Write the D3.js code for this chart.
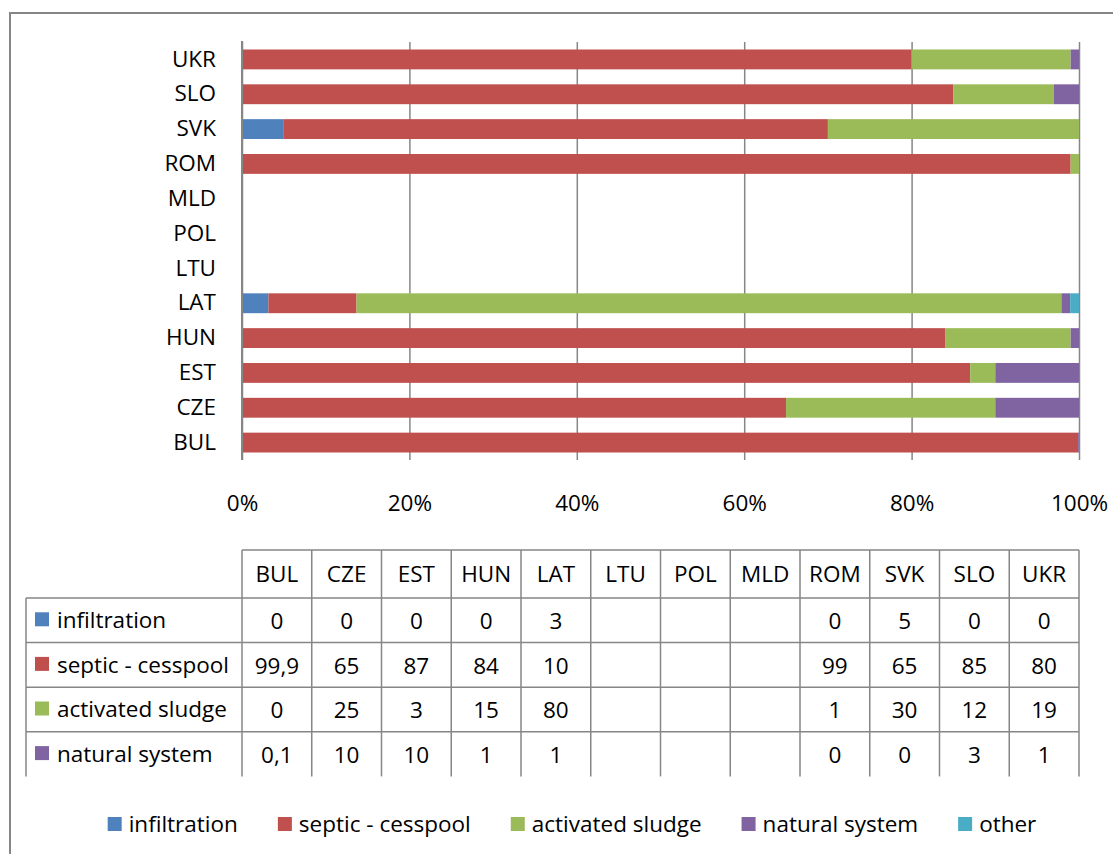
<!DOCTYPE html>
<html>
<head>
<meta charset="utf-8">
<script src="https://cdn.jsdelivr.net/npm/d3@7"></script>
<style>
  body { margin: 0; background: #fff; }
  svg text { font-family: "Open Sans", "Noto Sans", sans-serif; fill: #000; }
</style>
</head>
<body>
<svg id="chart" width="1113" height="854"></svg>
<script>
"use strict";

// categories, bottom to top in the chart, left to right in the table
const countries = ['BUL', 'CZE', 'EST', 'HUN', 'LAT', 'LTU', 'POL', 'MLD', 'ROM', 'SVK', 'SLO', 'UKR'];

// shares per country (null = no data)
const infiltration = [0, 0, 0, 0, 3, null, null, null, 0, 5, 0, 0];
const septic = [99.9, 65, 87, 84, 10, null, null, null, 99, 65, 85, 80];
const activated = [0, 25, 3, 15, 80, null, null, null, 1, 30, 12, 19];
const natural = [0.1, 10, 10, 1, 1, null, null, null, 0, 0, 3, 1];
const other = [0, 0, 0, 0, 1, null, null, null, 0, 0, 0, 0];

const series_names = ['infiltration', 'septic - cesspool', 'activated sludge', 'natural system', 'other'];
const table_series = 4; // "other" is not listed in the table
const x_ticks = [0, 0.2, 0.4, 0.6, 0.8, 1];

const colors = ['#4f81bd', '#c0504d', '#9bbb59', '#8064a2', '#4bacc6'];
const grid_color = '#868686';
const font_size = 22.5;

const rows = countries.map((c, i) => ({
    country: c,
    s0: infiltration[i], s1: septic[i], s2: activated[i], s3: natural[i], s4: other[i]
}));
const keys = ['s0', 's1', 's2', 's3', 's4'];
const values = [infiltration, septic, activated, natural, other];

const margin = {top: 42, left: 242, right: 1079, bottom: 460};

const svg = d3.select('#chart');

// outer chart frame (only top and left edges are visible)
svg.append('path')
    .attr('d', 'M10,854V13H1113')
    .attr('fill', 'none')
    .attr('stroke', grid_color)
    .attr('stroke-width', 2);

const x = d3.scaleLinear().domain([0, 1]).range([margin.left, margin.right]);
const y = d3.scaleBand().domain(countries)
    .range([margin.bottom, margin.top])
    .paddingInner(0.43).paddingOuter(0.215);

// gridlines and percent labels
const xAxis = d3.axisBottom(x)
    .tickValues(x_ticks)
    .tickFormat(d3.format('.0%'))
    .tickSizeInner(-(margin.bottom - margin.top))
    .tickSizeOuter(0);

const gx = svg.append('g')
    .attr('transform', `translate(0,${margin.bottom})`)
    .call(xAxis);
gx.select('.domain').remove();
gx.selectAll('line').attr('stroke', grid_color).attr('stroke-width', 1.5);
gx.selectAll('text')
    .attr('y', 43).attr('dy', '0.35em')
    .style('font-size', font_size + 'px')
    .style('font-family', null);

// stacked, normalised to 100%
const stack = d3.stack().keys(keys).offset(d3.stackOffsetExpand);
const stacked = stack(rows);

svg.append('g').selectAll('g')
    .data(stacked)
    .join('g')
    .attr('fill', (d, i) => colors[i])
    .selectAll('rect')
    .data(d => d.filter(p => p[1] - p[0] > 0))
    .join('rect')
    .attr('x', d => x(d[0]))
    .attr('width', d => x(d[1]) - x(d[0]))
    .attr('y', d => y(d.data.country))
    .attr('height', y.bandwidth());

// category axis
const yAxis = d3.axisLeft(y).tickSize(0).tickPadding(26);
const gy = svg.append('g')
    .attr('transform', `translate(${margin.left},0)`)
    .call(yAxis);
gy.select('.domain')
    .attr('d', `M0,${margin.top - 1}V${margin.bottom}`)
    .attr('stroke', grid_color).attr('stroke-width', 2);
gy.selectAll('text')
    .style('font-size', font_size + 'px')
    .style('font-family', null);

// data table
const col = d3.scaleBand().domain(countries).range([margin.left, margin.right]);
const table_top = 550, header_bottom = 598, row_h = 44.6, table_left = 26;
const table_bottom = header_bottom + row_h * table_series;
const table = svg.append('g');
const line_style = sel => sel.attr('stroke', grid_color).attr('stroke-width', 1.5);

// horizontal rules
table.append('line').call(line_style)
    .attr('x1', margin.left).attr('x2', margin.right)
    .attr('y1', table_top).attr('y2', table_top);
d3.range(table_series).forEach(i => {
    const yy = header_bottom + i * row_h;
    table.append('line').call(line_style)
        .attr('x1', table_left).attr('x2', margin.right)
        .attr('y1', yy).attr('y2', yy);
});
// vertical rules
table.append('line').call(line_style)
    .attr('x1', table_left).attr('x2', table_left)
    .attr('y1', header_bottom).attr('y2', table_bottom);
countries.concat([null]).forEach((c, i) => {
    const xx = c ? col(c) : margin.right;
    table.append('line').call(line_style)
        .attr('x1', xx).attr('x2', xx)
        .attr('y1', table_top).attr('y2', table_bottom);
});

// header
table.selectAll('.head')
    .data(countries)
    .join('text')
    .attr('class', 'head')
    .attr('x', d => col(d) + col.bandwidth() / 2)
    .attr('y', (table_top + header_bottom) / 2)
    .attr('dy', '0.35em')
    .attr('text-anchor', 'middle')
    .style('font-size', font_size + 'px')
    .text(d => d);

const fmt = v => String(v).replace('.', ',');

d3.range(table_series).forEach(s => {
    const cy = header_bottom + (s + 0.5) * row_h;
    table.append('rect')
        .attr('x', 35).attr('y', cy - 8)
        .attr('width', 14).attr('height', 14)
        .attr('fill', colors[s]);
    table.append('text')
        .attr('x', 57).attr('y', cy).attr('dy', '0.35em')
        .style('font-size', font_size + 'px')
        .text(series_names[s]);
    table.append('g').selectAll('text')
        .data(values[s].map((v, i) => ({v, c: countries[i]})).filter(d => d.v !== null))
        .join('text')
        .attr('x', d => col(d.c) + col.bandwidth() / 2)
        .attr('y', cy + 1).attr('dy', '0.35em')
        .attr('text-anchor', 'middle')
        .style('font-size', font_size + 'px')
        .text(d => fmt(d.v));
});

// legend
const legend = svg.append('g').attr('transform', 'translate(0,824)');
const items = legend.selectAll('g')
    .data(series_names)
    .join('g');
items.append('rect')
    .attr('x', 0).attr('y', -7)
    .attr('width', 14).attr('height', 14)
    .attr('fill', (d, i) => colors[i]);
items.append('text')
    .attr('x', 21).attr('dy', '0.35em')
    .style('font-size', font_size + 'px')
    .text(d => d);

const gap = 40;
const widths = items.nodes().map(n => 21 + d3.select(n).select('text').node().getComputedTextLength());
const total = d3.sum(widths) + gap * (widths.length - 1);
let pos = 572 - total / 2;
items.each(function (d, i) {
    d3.select(this).attr('transform', `translate(${pos},0)`);
    pos += widths[i] + gap;
});
</script>
</body>
</html>
